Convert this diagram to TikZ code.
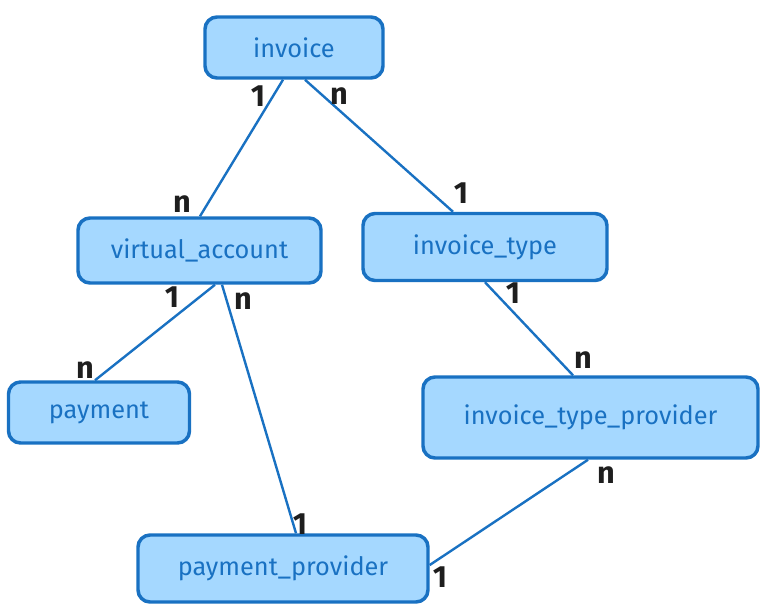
\documentclass[tikz,border=0pt]{standalone}
\usepackage{fontspec}
\setmainfont{Fira Sans}
\usetikzlibrary{calc}
\definecolor{boxfill}{HTML}{A5D8FF}
\definecolor{boxline}{HTML}{1971C2}
\definecolor{ink}{HTML}{1E1E1E}
\begin{document}
\begin{tikzpicture}[x=0.75pt,y=-0.75pt,
  entity/.style={draw=boxline, fill=boxfill, line width=2.6pt, rounded corners=9pt, text=boxline, font=\fontsize{19}{22}\selectfont, inner sep=0pt},
  rel/.style={draw=boxline, line width=1.8pt},
  card/.style={text=ink, font=\bfseries\fontsize{23}{25}\selectfont, inner sep=0pt}]
\useasboundingbox (0,0) rectangle (764,612);
\node[entity, minimum width=133.5pt, minimum height=45.75pt] (invoice) at (294,47.5) {invoice};
\node[entity, minimum width=182.25pt, minimum height=48.75pt] (va) at (199.5,250.5) {virtual\_account};
\node[entity, minimum width=183pt, minimum height=50.25pt] (it) at (485,247) {invoice\_type};
\node[entity, minimum width=135.75pt, minimum height=45.75pt] (pay) at (99,412.5) {payment};
\node[entity, minimum width=251.25pt, minimum height=60.75pt] (itp) at (590.5,417.5) {invoice\_type\_provider};
\node[entity, minimum width=217.5pt, minimum height=50.25pt] (pp) at (283,568.5) {payment\_provider};
\draw[rel] ($(invoice.south)+(-11,0)$) -- ($(va.north)+(0.5,0)$);
\draw[rel] ($(invoice.south)+(11,0)$) -- ($(it.north)+(-32,0)$);
\draw[rel] ($(va.south)+(15.5,0)$) -- ($(pay.north)+(-4,0)$);
\draw[rel] ($(va.south)+(22.5,0)$) -- ($(pp.north)+(13,0)$);
\draw[rel] (it.south) -- ($(itp.north)+(-17.5,0)$);
\draw[rel] ($(itp.south)+(-2.5,0)$) -- ($(pp.east)+(0,-3.5)$);
\node[card] (c1) at (258,96) {1};
\node[card] (c2) at (339,96) {n};
\node[card] (c3) at (182,204) {n};
\node[card] (c4) at (461,193) {1};
\node[card] (c5) at (172,297) {1};
\node[card] (c6) at (243,301) {n};
\node[card] (c7) at (513,293) {1};
\node[card] (c8) at (85,370) {n};
\node[card] (c9) at (583,360) {n};
\node[card] (c10) at (606,475) {n};
\node[card] (c11) at (300,524) {1};
\node[card] (c12) at (440,577) {1};
\end{tikzpicture}
\end{document}
